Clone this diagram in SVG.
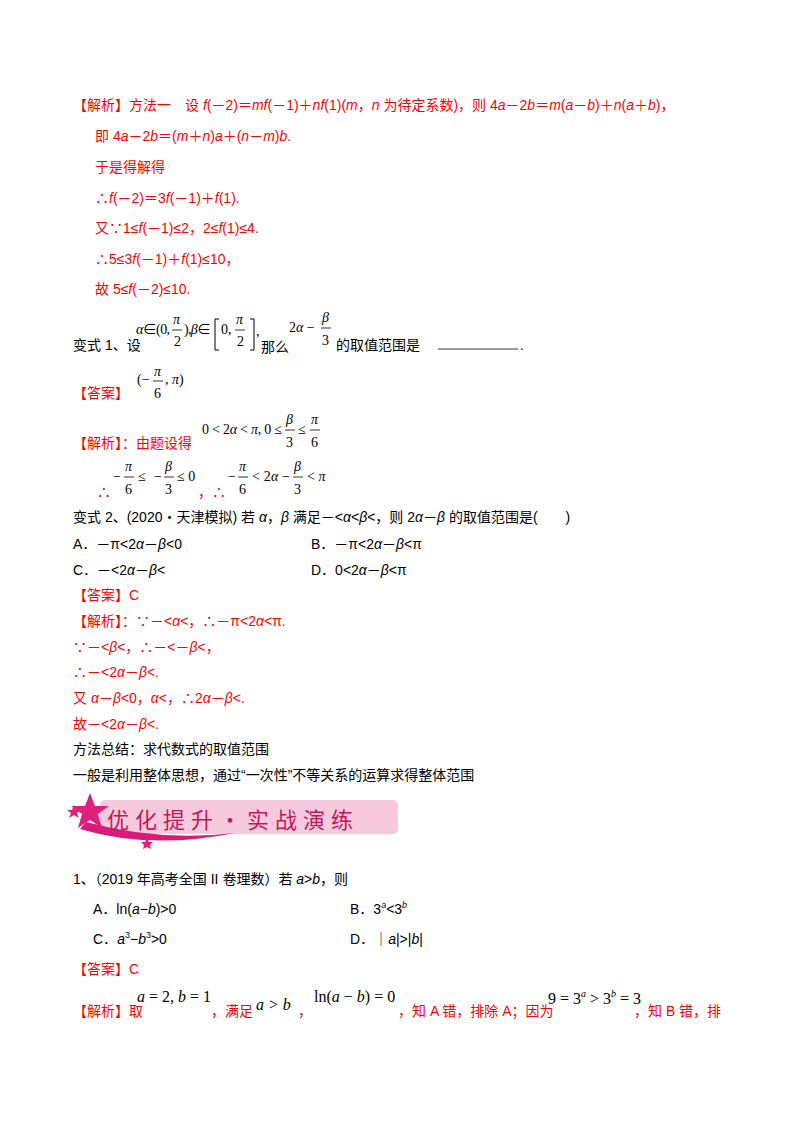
<svg xmlns="http://www.w3.org/2000/svg" width="800" height="1132" viewBox="0 0 800 1132">
<style>
text{font-family:"Liberation Sans","Noto Sans CJK SC",sans-serif;font-size:14px;fill:#000}
.r{fill:#f00}
.m{font-family:"Liberation Serif","Noto Sans CJK SC",serif;font-size:14px}
.mi{font-family:"Liberation Serif",serif;font-size:14px;font-style:italic}
line{stroke:#000;stroke-width:0.8}
</style>
<rect width="800" height="1132" fill="#fff"/>
<g id="sol1">
<text class="r" x="73" y="110">【解析】方法一　设 <tspan font-style="italic">f</tspan>(－2)＝<tspan font-style="italic">mf</tspan>(－1)＋<tspan font-style="italic">nf</tspan>(1)(<tspan font-style="italic">m</tspan>，<tspan font-style="italic">n</tspan> 为待定系数)，则 4<tspan font-style="italic">a</tspan>－2<tspan font-style="italic">b</tspan>＝<tspan font-style="italic">m</tspan>(<tspan font-style="italic">a</tspan>－<tspan font-style="italic">b</tspan>)＋<tspan font-style="italic">n</tspan>(<tspan font-style="italic">a</tspan>＋<tspan font-style="italic">b</tspan>)，</text>
<text class="r" x="95" y="141">即 4<tspan font-style="italic">a</tspan>－2<tspan font-style="italic">b</tspan>＝(<tspan font-style="italic">m</tspan>＋<tspan font-style="italic">n</tspan>)<tspan font-style="italic">a</tspan>＋(<tspan font-style="italic">n</tspan>－<tspan font-style="italic">m</tspan>)<tspan font-style="italic">b</tspan>.</text>
<text class="r" x="95" y="172">于是得解得</text>
<text class="r" x="95" y="203">∴<tspan font-style="italic">f</tspan>(－2)＝3<tspan font-style="italic">f</tspan>(－1)＋<tspan font-style="italic">f</tspan>(1).</text>
<text class="r" x="95" y="233">又∵1≤<tspan font-style="italic">f</tspan>(－1)≤2，2≤<tspan font-style="italic">f</tspan>(1)≤4.</text>
<text class="r" x="95" y="264">∴5≤3<tspan font-style="italic">f</tspan>(－1)＋<tspan font-style="italic">f</tspan>(1)≤10，</text>
<text class="r" x="95" y="294">故 5≤<tspan font-style="italic">f</tspan>(－2)≤10.</text>
</g>
<g id="var1">
<text x="73" y="350">变式 1、设</text>
<text class="m" x="136" y="334" textLength="34"><tspan font-style="italic">α</tspan>∈(0,</text>
<text class="mi" x="173" y="324">π</text><line x1="172" y1="330" x2="182" y2="330"/><text class="m" x="174" y="346">2</text>
<text class="m" x="184" y="334" textLength="27">),<tspan font-style="italic">β</tspan>∈</text>
<path d="M219 319 h-4 v31 h4 M250 319 h4 v31 h-4" fill="none" stroke="#000" stroke-width="1"/>
<text class="m" x="221" y="334">0,</text>
<text class="mi" x="236" y="324">π</text><line x1="235" y1="330" x2="245" y2="330"/><text class="m" x="237" y="346">2</text>
<text class="m" x="256" y="336">,</text>
<text x="261" y="352">那么</text>
<text class="m" x="289" y="332">2<tspan font-style="italic">α</tspan> −</text>
<text class="mi" x="322" y="322">β</text><line x1="321" y1="328" x2="331" y2="328"/><text class="m" x="322" y="345">3</text>
<text x="336" y="350">的取值范围是</text>
<line x1="438" y1="349" x2="518" y2="349"/>
<text x="520" y="350">.</text>
</g>
<g id="ans1">
<text class="r" x="73" y="398">【答案】</text>
<text class="m" x="137" y="384">(−</text>
<text class="mi" x="154" y="376">π</text><line x1="153" y1="381" x2="163" y2="381"/><text class="m" x="154" y="398">6</text>
<text class="m" x="165" y="384">, <tspan font-style="italic">π</tspan>)</text>
</g>
<g id="sol2">
<text class="r" x="73" y="448">【解析】：由题设得</text>
<text class="m" x="202" y="434" textLength="80">0 &lt; 2<tspan font-style="italic">α</tspan> &lt; <tspan font-style="italic">π</tspan>, 0 ≤</text>
<text class="mi" x="286" y="424">β</text><line x1="285" y1="430" x2="295" y2="430"/><text class="m" x="286" y="447">3</text>
<text class="m" x="298" y="434">≤</text>
<text class="mi" x="311" y="424">π</text><line x1="310" y1="430" x2="320" y2="430"/><text class="m" x="311" y="447">6</text>
<text class="r" x="97" y="497" font-size="16">∴</text>
<text class="m" x="113" y="481">−</text>
<text class="mi" x="125" y="471">π</text><line x1="124" y1="477" x2="134" y2="477"/><text class="m" x="125" y="494">6</text>
<text class="m" x="138" y="481" textLength="24">≤ −</text>
<text class="mi" x="165" y="471">β</text><line x1="164" y1="477" x2="174" y2="477"/><text class="m" x="165" y="494">3</text>
<text class="m" x="177" y="481">≤ 0</text>
<text class="r" x="198" y="497">，∴</text>
<text class="m" x="228" y="481">−</text>
<text class="mi" x="239" y="471">π</text><line x1="238" y1="477" x2="248" y2="477"/><text class="m" x="239" y="494">6</text>
<text class="m" x="252" y="481" textLength="38">&lt; 2<tspan font-style="italic">α</tspan> −</text>
<text class="mi" x="294" y="471">β</text><line x1="293" y1="477" x2="303" y2="477"/><text class="m" x="294" y="494">3</text>
<text class="m" x="307" y="481">&lt; <tspan font-style="italic">π</tspan></text>
</g>
<g id="var2">
<text x="73" y="522">变式 2、(2020・天津模拟) 若 <tspan font-style="italic">α</tspan>，<tspan font-style="italic">β</tspan> 满足－&lt;<tspan font-style="italic">α</tspan>&lt;<tspan font-style="italic">β</tspan>&lt;，则 2<tspan font-style="italic">α</tspan>－<tspan font-style="italic">β</tspan> 的取值范围是(　　)</text>
<text x="73" y="549">A．－π&lt;2<tspan font-style="italic">α</tspan>－<tspan font-style="italic">β</tspan>&lt;0</text>
<text x="311" y="549">B．－π&lt;2<tspan font-style="italic">α</tspan>－<tspan font-style="italic">β</tspan>&lt;π</text>
<text x="73" y="575">C．－&lt;2<tspan font-style="italic">α</tspan>－<tspan font-style="italic">β</tspan>&lt;</text>
<text x="311" y="575">D．0&lt;2<tspan font-style="italic">α</tspan>－<tspan font-style="italic">β</tspan>&lt;π</text>
<text class="r" x="73" y="600">【答案】C</text>
<text class="r" x="73" y="626">【解析】：∵－&lt;<tspan font-style="italic">α</tspan>&lt;，∴－π&lt;2<tspan font-style="italic">α</tspan>&lt;π.</text>
<text class="r" x="73" y="652">∵－&lt;<tspan font-style="italic">β</tspan>&lt;，∴－&lt;－<tspan font-style="italic">β</tspan>&lt;，</text>
<text class="r" x="73" y="677">∴－&lt;2<tspan font-style="italic">α</tspan>－<tspan font-style="italic">β</tspan>&lt;.</text>
<text class="r" x="73" y="703">又 <tspan font-style="italic">α</tspan>－<tspan font-style="italic">β</tspan>&lt;0，<tspan font-style="italic">α</tspan>&lt;，∴2<tspan font-style="italic">α</tspan>－<tspan font-style="italic">β</tspan>&lt;.</text>
<text class="r" x="73" y="729">故－&lt;2<tspan font-style="italic">α</tspan>－<tspan font-style="italic">β</tspan>&lt;.</text>
<text x="73" y="754">方法总结：求代数式的取值范围</text>
<text x="73" y="780">一般是利用整体思想，通过“一次性”不等关系的运算求得整体范围</text>
</g>
<g id="banner">
<rect x="100" y="800" width="298" height="34" rx="5" fill="#f7c9dc"/>
<path d="M80 829 Q150 850 235 833 Q160 842 86 822 Z" fill="#d81b7a"/>
<polygon points="90,793 95,806 109,806 98,814 102,828 90,820 78,828 82,814 71,806 85,806" fill="#e0207e"/>
<polygon points="74,805 76,810 81,810 77,813 79,818 74,815 69,818 71,813 67,810 72,810" fill="#e0207e"/>
<polygon points="147,838 149,842 153,842 150,845 151,849 147,847 143,849 144,845 141,842 145,842" fill="#e0207e"/>
<text x="107" y="828" style="fill:#c2185b;font-size:22px" letter-spacing="6">优化提升・实战演练</text>
</g>
<g id="q1">
<text x="73" y="884">1、（2019 年高考全国 II 卷理数）若 <tspan font-style="italic">a</tspan>&gt;<tspan font-style="italic">b</tspan>，则</text>
<text x="93" y="914">A．ln(<tspan font-style="italic">a</tspan>−<tspan font-style="italic">b</tspan>)&gt;0</text>
<text x="350" y="914">B．3<tspan font-size="9" dy="-6" font-style="italic">a</tspan><tspan dy="6">&lt;3</tspan><tspan font-size="9" dy="-6" font-style="italic">b</tspan></text>
<text x="93" y="944">C．<tspan font-style="italic">a</tspan><tspan font-size="9" dy="-6">3</tspan><tspan dy="6">−</tspan><tspan font-style="italic">b</tspan><tspan font-size="9" dy="-6">3</tspan><tspan dy="6">&gt;0</tspan></text>
<text x="350" y="944">D．｜<tspan font-style="italic">a</tspan>|&gt;|<tspan font-style="italic">b</tspan>|</text>
<text class="r" x="73" y="974">【答案】C</text>
<text class="r" x="73" y="1016">【解析】取</text>
<text class="m" x="137" y="1002" style="font-size:16px"><tspan font-style="italic">a</tspan> = 2, <tspan font-style="italic">b</tspan> = 1</text>
<text class="r" x="211" y="1016">，满足</text>
<text class="mi" x="256" y="1010" style="font-size:16px">a &gt; b</text>
<text class="r" x="298" y="1016">，</text>
<text class="m" x="314" y="1002" style="font-size:16px">ln(<tspan font-style="italic">a</tspan> − <tspan font-style="italic">b</tspan>) = 0</text>
<text class="r" x="398" y="1016">，知 A 错，排除 A；因为</text>
<text class="m" x="548" y="1004" style="font-size:16px">9 = 3<tspan font-size="10" dy="-7" font-style="italic">a</tspan><tspan dy="7"> &gt; 3</tspan><tspan font-size="10" dy="-7" font-style="italic">b</tspan><tspan dy="7"> = 3</tspan></text>
<text class="r" x="634" y="1016">，知 B 错，排</text>
</g>
</svg>
